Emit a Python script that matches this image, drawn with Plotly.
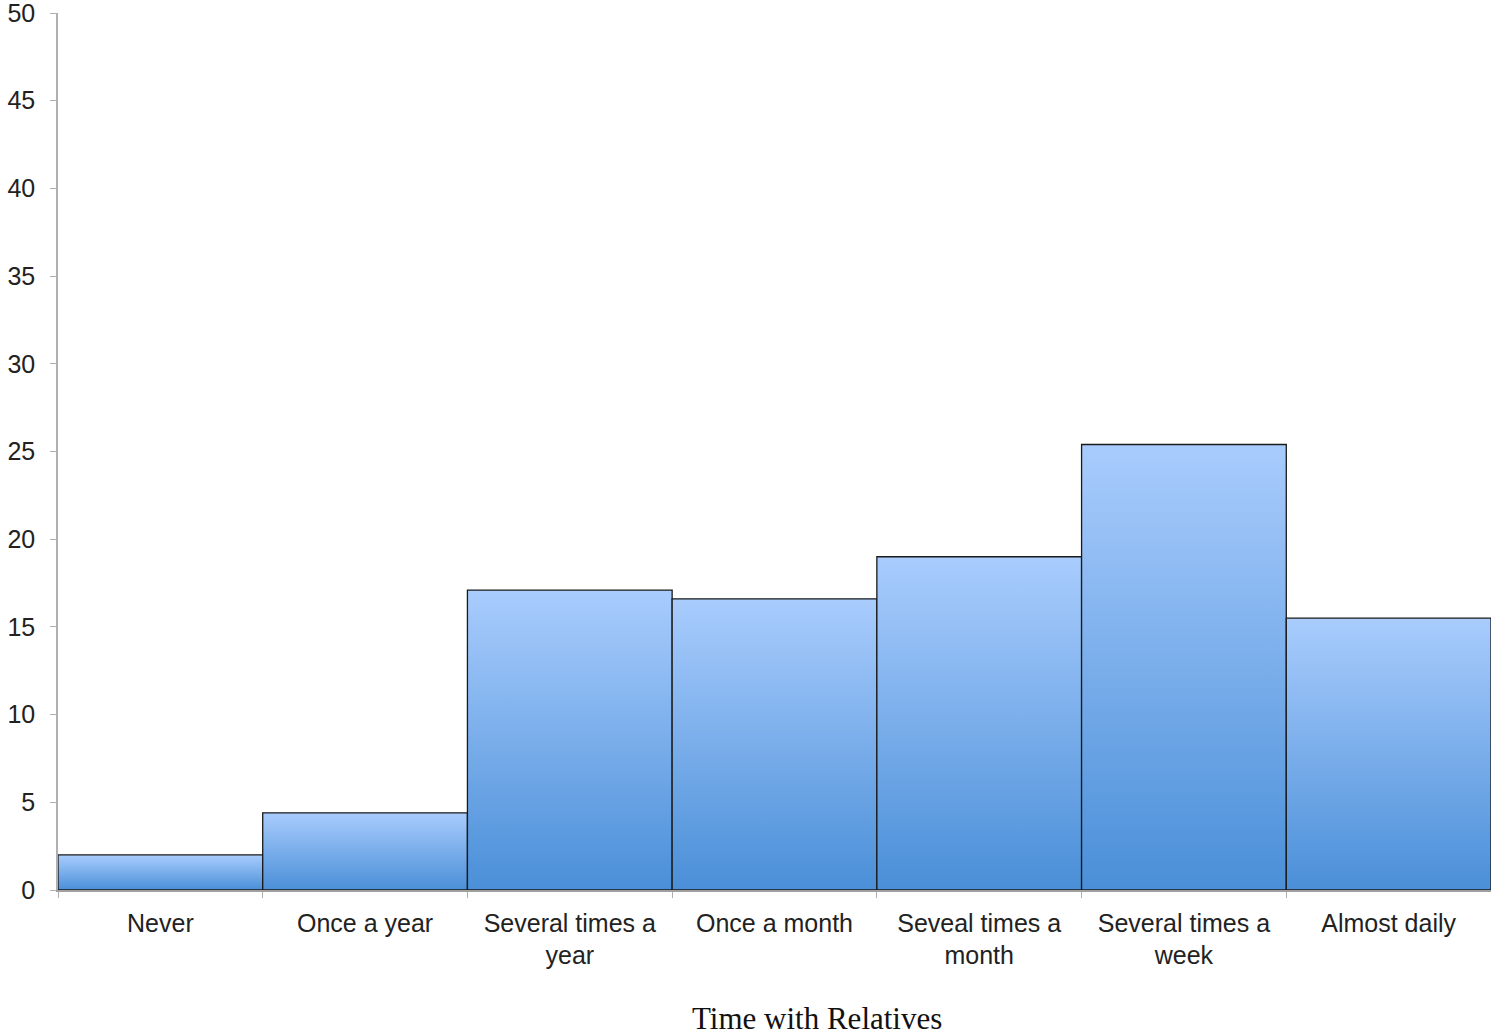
import plotly.graph_objects as go

categories = ["Never", "Once a year", "Several times a<br>year", "Once a month",
              "Seveal times a<br>month", "Several times a<br>week", "Almost daily"]
values = [2.0, 4.4, 17.1, 16.6, 19.0, 25.4, 15.5]
y_ticks = [0, 5, 10, 15, 20, 25, 30, 35, 40, 45, 50]
x_title = "Time with Relatives"

fig = go.Figure()

# invisible bars on the categorical axis to drive the category ticks/labels
fig.add_trace(go.Bar(x=categories, y=values, marker=dict(color="rgba(0,0,0,0)", line=dict(width=0)),
                     hoverinfo="skip", showlegend=False, xaxis="x", yaxis="y"))

# gradient-filled bars drawn as filled polygons on an overlaying numeric axis
for i, v in enumerate(values):
    fig.add_trace(go.Scatter(
        x=[i - 0.5, i - 0.5, i + 0.5, i + 0.5, i - 0.5],
        y=[0, v, v, 0, 0],
        mode="lines", fill="toself",
        fillgradient=dict(type="vertical", colorscale=[[0, "#4a8fd8"], [1, "#a9ccfd"]]),
        line=dict(color="#1a1a1a", width=1.3),
        showlegend=False, hoverinfo="skip", xaxis="x2", yaxis="y"))

fig.update_layout(
    width=1491, height=1036,
    margin=dict(l=58, r=0, t=13, b=146),
    plot_bgcolor="white", paper_bgcolor="white",
    bargap=0,
    font=dict(family="Liberation Sans, Arial, sans-serif", size=25, color="#222222"),
    xaxis=dict(type="category", range=[-0.5, 6.5], tickson="boundaries", ticks="outside",
               ticklen=6, tickcolor="#b0b0b0", showline=True, linecolor="#a0a0a0", linewidth=1.5,
               showgrid=False, zeroline=False, automargin=False, ticklabelstandoff=10,
               tickfont=dict(size=25, color="#222222")),
    xaxis2=dict(range=[-0.5, 6.5], overlaying="x", visible=False, showgrid=False, zeroline=False,
                automargin=False),
    yaxis=dict(range=[0, 50], tickvals=y_ticks, ticks="outside", ticklen=6, tickcolor="#b0b0b0",
               showline=True, linecolor="#b0b0b0", linewidth=1.5, showgrid=False, zeroline=False,
               automargin=False, ticklabeloverflow="allow", ticklabelstandoff=10,
               tickfont=dict(size=25, color="#222222")),
    annotations=[dict(text=x_title, xref="paper", yref="paper", x=0.53, y=0, yshift=-128,
                      xanchor="center", yanchor="middle", showarrow=False,
                      font=dict(family="Liberation Serif, Times New Roman, serif", size=31, color="#111111"))],
)

# remove the default 8px page margin so the figure fills the window exactly
fig.write_html("out.html", config={"displayModeBar": False},
               post_script="document.body.style.margin='0';")
